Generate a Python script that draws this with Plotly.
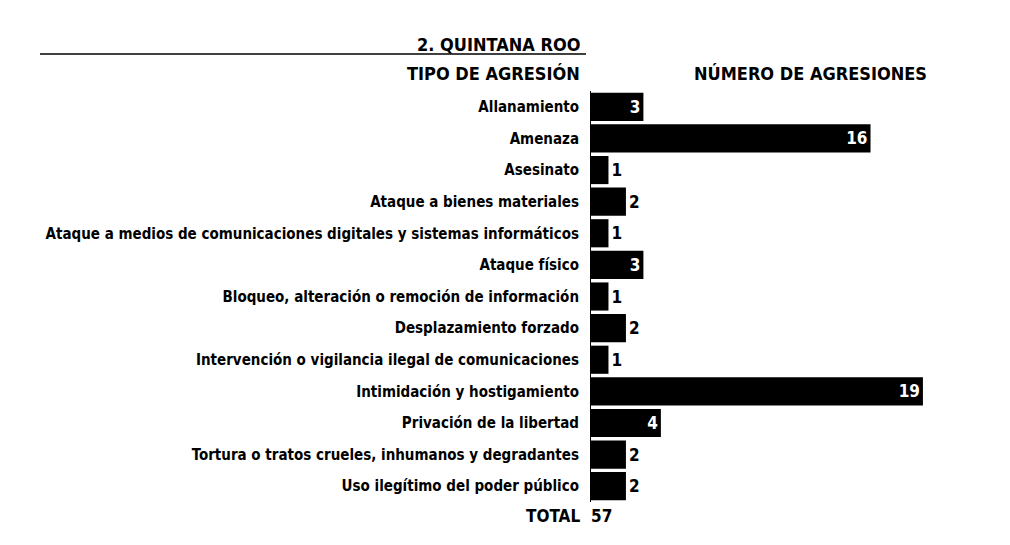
import plotly.graph_objects as go

categories = [
    "Allanamiento",
    "Amenaza",
    "Asesinato",
    "Ataque a bienes materiales",
    "Ataque a medios de comunicaciones digitales y sistemas informáticos",
    "Ataque físico",
    "Bloqueo, alteración o remoción de información",
    "Desplazamiento forzado",
    "Intervención o vigilancia ilegal de comunicaciones",
    "Intimidación y hostigamiento",
    "Privación de la libertad",
    "Tortura o tratos crueles, inhumanos y degradantes",
    "Uso ilegítimo del poder público",
]
values = [3, 16, 1, 2, 1, 3, 1, 2, 1, 19, 4, 2, 2]
title_text = "2. QUINTANA ROO"
left_header = "TIPO DE AGRESIÓN"
right_header = "NÚMERO DE AGRESIONES"
total_label = "TOTAL"

W, H = 1010, 545
ML, MR, MT, MB = 591, 17, 91, 43
PW = W - ML - MR
PH = H - MT - MB
FONT = "Liberation Sans Narrow, DejaVu Sans Condensed, sans-serif"

def px(x):
    return (x - ML) / PW

def py(y):
    return (H - MB - y) / PH

def f(size, color="black"):
    return dict(size=size, family=FONT, color=color, weight=700)

positions = ["inside" if v >= 3 else "outside" for v in values]

fig = go.Figure(go.Bar(
    x=values,
    y=categories,
    orientation="h",
    marker=dict(color="#000000", line=dict(width=0)),
    text=[str(v) for v in values],
    textposition=positions,
    insidetextanchor="end",
    textangle=0,
    insidetextfont=f(17, "white"),
    outsidetextfont=f(17),
    cliponaxis=False,
    hoverinfo="skip",
))

fig.update_layout(
    width=W, height=H,
    margin=dict(l=ML, r=MR, t=MT, b=MB, autoexpand=False),
    paper_bgcolor="white",
    plot_bgcolor="white",
    bargap=0.11,
    showlegend=False,
    font=dict(family=FONT, color="black"),
    uniformtext=dict(minsize=10, mode="show"),
)
fig.update_xaxes(range=[0, PW / 17.47], visible=False, fixedrange=True)
fig.update_yaxes(
    categoryorder="array", categoryarray=categories,
    autorange="reversed",
    automargin=False,
    showline=True, linecolor="black", linewidth=1,
    showgrid=False, zeroline=False,
    ticks="", ticklabelstandoff=8,
    tickfont=f(15),
    fixedrange=True,
)

fig.add_annotation(text=title_text, xref="paper", yref="paper", x=px(582), y=py(44),
                   xanchor="right", yanchor="middle", showarrow=False, font=f(18))
fig.add_annotation(text=left_header, xref="paper", yref="paper", x=px(582), y=py(74),
                   xanchor="right", yanchor="middle", showarrow=False, font=f(18))
fig.add_annotation(text=right_header, xref="paper", yref="paper", x=px(810), y=py(74),
                   xanchor="center", yanchor="middle", showarrow=False, font=f(18))
fig.add_annotation(text=total_label, xref="paper", yref="paper", x=px(582), y=py(516),
                   xanchor="right", yanchor="middle", showarrow=False, font=f(17))
fig.add_annotation(text=str(sum(values)), xref="paper", yref="paper", x=px(589), y=py(516),
                   xanchor="left", yanchor="middle", showarrow=False, font=f(17))
fig.add_shape(type="line", xref="paper", yref="paper", x0=px(40), x1=px(586),
              y0=py(54), y1=py(54), line=dict(color="black", width=1.5))

fig.write_html("out.html")
